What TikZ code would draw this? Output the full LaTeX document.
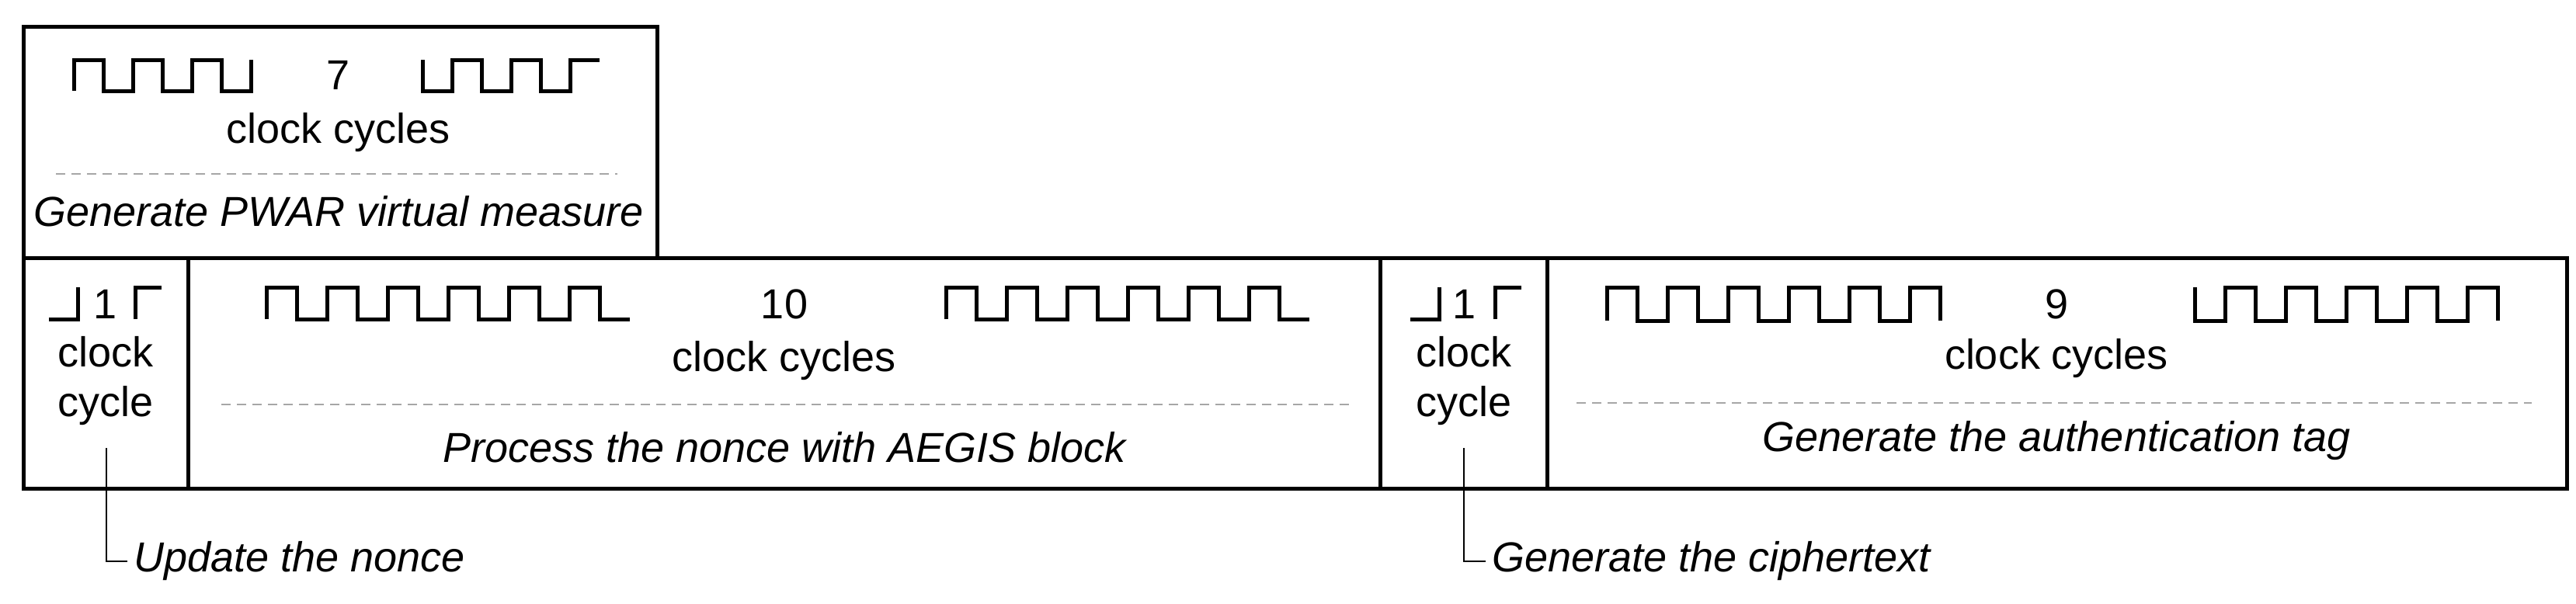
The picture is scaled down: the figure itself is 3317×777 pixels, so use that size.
\documentclass[tikz,border=0pt]{standalone}
\usepackage{fontspec}
\setmainfont{Liberation Sans}
\begin{document}
\begin{tikzpicture}[x=1pt,y=-1pt,
  box/.style={draw,line width=5pt},
  wave/.style={line width=5pt,line cap=butt,line join=miter},
  sep/.style={draw=gray!70,dashed,line width=2pt,dash pattern=on 12pt off 8pt},
  lead/.style={draw,line width=2pt},
  txt/.style={font=\fontsize{54}{62}\selectfont,inner sep=0pt},
  itxt/.style={font=\fontsize{54}{62}\selectfont\itshape,inner sep=0pt}]
\useasboundingbox (0,0) rectangle (3317,777);
% boxes
\draw[box] (30,34) rectangle (846,332);
\draw[box] (30,332) rectangle (3305,629);
\draw[box] (242,332) -- (242,629);
\draw[box] (1777,332) -- (1777,629);
\draw[box] (1992,332) -- (1992,629);
% top box
\draw[wave] (95,117) foreach \i in {0,1,2} {-- ++(0,-40) -- ++(38,0) -- ++(0,40) -- ++(38,0)} -- ++(0,-40);
\node[txt] (n7) at (436,97) {7};
\draw[wave] (544,77) foreach \i in {0,1,2} {-- ++(0,40) -- ++(38,0) -- ++(0,-40) -- ++(38,0)};
\node[txt] (cc1) at (436,171) {clock cycles};
\draw[sep] (72,224) -- (795,224);
\node[itxt] (t1) at (436,272) {Generate PWAR virtual measure};
% cell 1
\draw[wave] (63,411) -- (100,411) -- (100,370);
\node[txt] (o1) at (136,392) {1};
\draw[wave] (174,411) -- (174,370) -- (208,370);
\node[txt] (c1a) at (136,453) {clock};
\node[txt] (c1b) at (136,523) {cycle};
% cell 2
\draw[wave] (343,411) foreach \i in {1,...,6} {-- ++(0,-41) -- ++(39,0) -- ++(0,41) -- ++(39,0)};
\node[txt] (n10) at (1010,392) {10};
\draw[wave] (1218,411) foreach \i in {1,...,6} {-- ++(0,-41) -- ++(39,0) -- ++(0,41) -- ++(39,0)};
\node[txt] (cc2) at (1010,465) {clock cycles};
\draw[sep] (285,521) -- (1739,521);
\node[itxt] (t2) at (1010,576) {Process the nonce with AEGIS block};
% cell 3
\draw[wave] (1816,411) -- (1853,411) -- (1853,370);
\node[txt] (o3) at (1885,392) {1};
\draw[wave] (1925,411) -- (1925,370) -- (1959,370);
\node[txt] (c3a) at (1885,453) {clock};
\node[txt] (c3b) at (1885,523) {cycle};
% cell 4
\draw[wave] (2069,413) foreach \i in {1,...,5} {-- ++(0,-43) -- ++(39,0) -- ++(0,43) -- ++(39,0)} -- ++(0,-43) -- ++(39,0) -- ++(0,43);
\node[txt] (n9) at (2648,392) {9};
\draw[wave] (2826,370) foreach \i in {1,...,5} {-- ++(0,43) -- ++(39,0) -- ++(0,-43) -- ++(39,0)} -- ++(0,43);
\node[txt] (cc4) at (2648,462) {clock cycles};
\draw[sep] (2030,519) -- (3260,519);
\node[itxt] (t4) at (2648,568) {Generate the authentication tag};
% leaders
\node[itxt,anchor=west] (u1) at (172,723) {Update the nonce};
\node[itxt,anchor=west] (u3) at (1921,723) {Generate the ciphertext};
\coordinate (a1) at (137,577);
\coordinate (a3) at (1885,577);
\draw[lead] (a1) |- ([xshift=-8pt]u1.west);
\draw[lead] (a3) |- ([xshift=-8pt]u3.west);
\end{tikzpicture}
\end{document}
